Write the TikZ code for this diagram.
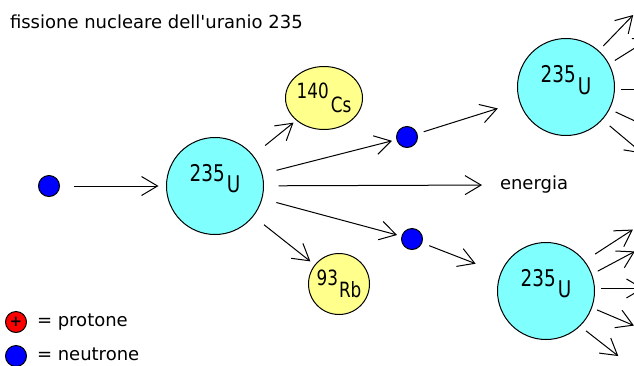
\documentclass[tikz,border=0pt]{standalone}
\usepackage{fontspec}
\setmainfont{DejaVu Sans}
\newfontfamily\siglafont[FakeStretch=0.8]{DejaVu Sans}
\usetikzlibrary{arrows.meta}
\usetikzlibrary{shapes.geometric}
\usetikzlibrary{positioning,calc}

\begin{document}
\begin{tikzpicture}[x=1pt,y=-1pt,
    every node/.style = {outer sep=0pt,inner sep=0pt},
    testo/.style = {font=\fontsize{18}{20}\selectfont,inner sep=3pt},
    sigla/.style = {font=\siglafont\fontsize{23}{25}\selectfont},
    siglapiccola/.style = {font=\siglafont\fontsize{21}{23}\selectfont},
    uranio/.style = {circle,draw,line width=1pt,fill={rgb,255:red,128;green,255;blue,255},minimum size=97pt},
    frammento/.style = {draw,line width=1pt,fill={rgb,255:red,255;green,255;blue,140}},
    neutrone/.style = {circle,draw,line width=1pt,fill=blue,minimum size=21pt},
    freccia/.style = {-{Straight Barb[length=16pt,width=19pt]},line width=1pt},
    ]
    \useasboundingbox (0,0) rectangle (634,365);
    \clip (0,0) rectangle (634,365);

    \node[testo,anchor=west] (titolo) at (7,22) {fissione nucleare dell\textquotesingle uranio 235};

    % nuclei
    \node[neutrone] (n-1) at (49,186) {};
    \node[uranio,label={[sigla,yshift=7pt]center:{235\kern2pt\raisebox{-11pt}{U}}}] (u-1) at (215,186) {};
    \node[frammento,ellipse,minimum width=77pt,minimum height=63pt,
        label={[siglapiccola]center:{140\kern2pt\raisebox{-14pt}{Cs}}}] (cs) at (324,98) {};
    \node[frammento,circle,minimum size=61pt,
        label={[siglapiccola]center:{93\kern1pt\raisebox{-12pt}{Rb}}}] (rb) at (339,284) {};
    \node[neutrone] (n-2) at (407,137) {};
    \node[neutrone] (n-3) at (412,239) {};
    \node[testo,anchor=west] (energia) at (497,185) {energia};
    \node[uranio,label={[sigla,yshift=7pt]center:{235\kern2pt\raisebox{-12pt}{U}}}] (u-2) at (566,87) {};
    \node[uranio,label={[sigla,yshift=7pt]center:{235\kern2pt\raisebox{-11pt}{U}}}] (u-3) at (546,291) {};

    % frecce
    \draw[freccia,shorten <=14pt,shorten >=8pt] (n-1) -- (u-1);
    \draw[freccia,shorten <=16pt,shorten >=4pt] (u-1) -- (cs);
    \draw[freccia,shorten <=15pt,shorten >=5pt] (u-1) -- (n-2);
    \draw[freccia,shorten <=15pt,shorten >=15pt] (u-1) -- (energia.west);
    \draw[freccia,shorten <=15pt,shorten >=5pt] (u-1) -- (n-3);
    \draw[freccia,shorten <=14pt,shorten >=6pt] (u-1) -- (rb);
    \draw[freccia,shorten <=7pt,shorten >=23pt] (n-2) -- (u-2);
    \draw[freccia,shorten <=8pt,shorten >=27pt] (n-3) -- (u-3);

    \draw[freccia] ([shift={(46:7pt)}]u-2.48) -- ++(46:43pt);
    \draw[freccia] ([shift={(32:7pt)}]u-2.28) -- ++(32:43pt);
    \draw[freccia] ([shift={(0:7pt)}]u-2.-3) -- ++(0:43pt);
    \draw[freccia] ([shift={(-25:7pt)}]u-2.-27) -- ++(-25:43pt);
    \draw[freccia] ([shift={(-40:10pt)}]u-2.-42) -- ++(-40:43pt);

    \draw[freccia] ([shift={(33:13pt)}]u-3.38) -- ++(33:45pt);
    \draw[freccia] ([shift={(28:7pt)}]u-3.20) -- ++(28:42pt);
    \draw[freccia] ([shift={(0:7pt)}]u-3.3) -- ++(0:42pt);
    \draw[freccia] ([shift={(-23:6pt)}]u-3.-20) -- ++(-23:40pt);
    \draw[freccia] ([shift={(-38:8pt)}]u-3.-46) -- ++(-38:41pt);

    % legenda
    \node[neutrone,fill=red,label={[font=\bfseries\fontsize{15}{15}\selectfont]center:+}] (protone) at (16,322) {};
    \node[testo,anchor=west] (text1) at (34,322) {= protone};
    \node[neutrone] (neutrone) at (16,356) {};
    \node[testo,anchor=west] (text2) at (34,354) {= neutrone};
\end{tikzpicture}
\end{document}
